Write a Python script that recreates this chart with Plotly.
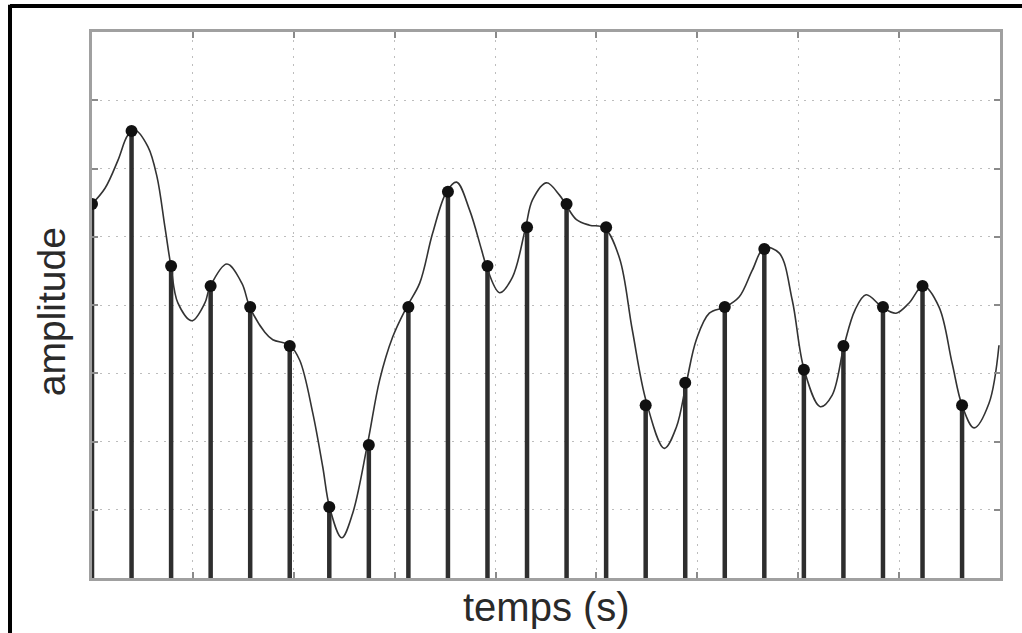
import plotly.graph_objects as go

# Sample instants (s) and sampled amplitudes
sample_t = [0.0, 0.0392, 0.0784, 0.1176, 0.1568, 0.196, 0.2352, 0.2744, 0.3136, 0.3528,
            0.392, 0.4312, 0.4704, 0.5096, 0.5488, 0.588, 0.6272, 0.6664, 0.7056, 0.7448,
            0.784, 0.8232, 0.8624]
sample_y = [5.48, 6.55, 4.57, 4.28, 3.97, 3.40, 1.04, 1.95, 3.97, 5.66,
            4.57, 5.14, 5.48, 5.14, 2.53, 2.86, 3.97, 4.82, 3.05, 3.40,
            3.97, 4.28, 2.53]

# Continuous signal
curve_t = [0.0, 0.0129, 0.0257, 0.0356, 0.0426, 0.0554, 0.0644, 0.0723, 0.0782, 0.0851,
           0.099, 0.1119, 0.1168, 0.1337, 0.1485, 0.1564, 0.1713, 0.1792, 0.196, 0.2059,
           0.2188, 0.2287, 0.2356, 0.2475, 0.2584, 0.2733, 0.2851, 0.298, 0.3119, 0.3248,
           0.3376, 0.3515, 0.3614, 0.3743, 0.3861, 0.3911, 0.404, 0.4168, 0.4297, 0.4366,
           0.4505, 0.4634, 0.4693, 0.4802, 0.4931, 0.5079, 0.5228, 0.5356, 0.5495, 0.5673,
           0.5792, 0.5891, 0.599, 0.6119, 0.6277, 0.6416, 0.6545, 0.6663, 0.6812, 0.6941,
           0.7059, 0.7218, 0.7337, 0.7455, 0.7564, 0.7673, 0.7832, 0.797, 0.8099, 0.8238,
           0.8396, 0.8525, 0.8624, 0.8743, 0.8891, 0.899]
curve_y = [5.48, 5.71, 6.12, 6.49, 6.56, 6.32, 5.88, 5.14, 4.57, 4.03,
           3.77, 4.03, 4.26, 4.60, 4.32, 3.97, 3.60, 3.49, 3.41, 3.19,
           2.42, 1.63, 1.03, 0.59, 0.95, 1.98, 2.90, 3.53, 3.97, 4.32,
           5.05, 5.66, 5.80, 5.39, 4.81, 4.56, 4.18, 4.41, 5.13, 5.54,
           5.79, 5.61, 5.48, 5.25, 5.17, 5.13, 4.69, 3.63, 2.58, 1.90,
           2.21, 2.86, 3.49, 3.88, 3.97, 4.12, 4.51, 4.84, 4.76, 4.07,
           3.05, 2.51, 2.68, 3.41, 3.93, 4.15, 3.97, 3.88, 4.03, 4.28,
           3.97, 3.15, 2.53, 2.20, 2.56, 3.41]

x_title = "temps (s)"
y_title = "amplitude"

# Build stem segments from the samples
stem_x, stem_y = [], []
for t, v in zip(sample_t, sample_y):
    stem_x += [t, t, None]
    stem_y += [0, v, None]

fig = go.Figure()
fig.add_trace(go.Scatter(x=stem_x, y=stem_y, mode="lines",
                         line=dict(color="#2e2e2e", width=4.5), hoverinfo="skip",
                         showlegend=False))
fig.add_trace(go.Scatter(x=curve_t, y=curve_y, mode="lines",
                         line=dict(color="#333333", width=1.6, shape="spline", smoothing=1.0),
                         showlegend=False))
fig.add_trace(go.Scatter(x=sample_t, y=sample_y, mode="markers",
                         marker=dict(color="#111111", size=12, symbol="circle"),
                         showlegend=False))

axis_common = dict(showticklabels=False, ticks="inside", ticklen=6, tickwidth=2,
                   tickcolor="#8a8a8a", mirror="ticks", showline=True,
                   linecolor="#a0a0a0", linewidth=2.5, showgrid=True,
                   gridcolor="#bdbdbd", griddash="2px,6px", gridwidth=1.2, zeroline=False)

fig.update_xaxes(range=[0, 0.9], tick0=0, dtick=0.1, **axis_common)
fig.update_yaxes(range=[0, 8], tick0=0, dtick=1, **axis_common)

fig.add_annotation(text=x_title, xref="paper", yref="paper", x=0.501, y=-0.053,
                   showarrow=False, xanchor="center", yanchor="middle",
                   font=dict(family="Liberation Sans, Arial, sans-serif", size=40, color="#2a2a2a"))
fig.add_annotation(text=y_title, xref="paper", yref="paper", x=-0.045, y=0.487,
                   showarrow=False, xanchor="center", yanchor="middle", textangle=-90,
                   font=dict(family="Liberation Sans, Arial, sans-serif", size=39, color="#2a2a2a"))

# Outer frame (top and left black borders)
fig.add_shape(type="line", xref="paper", yref="paper", x0=-0.0903, x1=1.03,
              y0=1.0476, y1=1.0476, line=dict(color="black", width=4))
fig.add_shape(type="line", xref="paper", yref="paper", x0=-0.0903, x1=-0.0903,
              y0=1.05, y1=-0.11, line=dict(color="black", width=4))

fig.update_layout(width=1022, height=633, margin=dict(l=92, r=22, t=32, b=55),
                  plot_bgcolor="white", paper_bgcolor="white", showlegend=False)

fig.write_html("out.html", config={"displayModeBar": False},
               post_script="document.body.style.margin='0';")
